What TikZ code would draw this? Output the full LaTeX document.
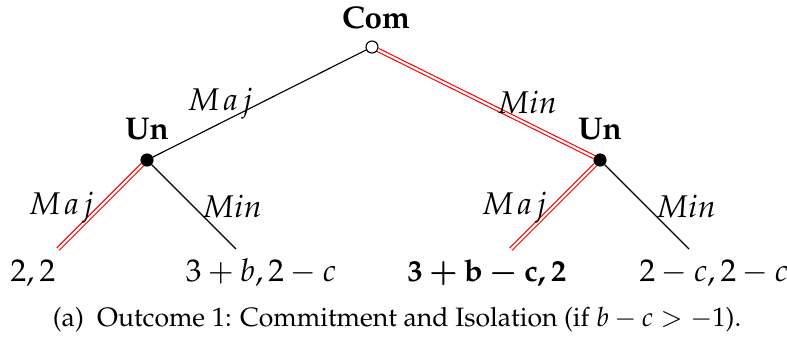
\documentclass[tikz,border=0pt]{standalone}
\usepackage[T1]{fontenc}
\usepackage{amsmath}
\usepackage{mathpazo}
\usetikzlibrary{positioning}
\definecolor{cred}{HTML}{FF0000}
\tikzset{
  every picture/.style={line width=0.4pt, font=\fontsize{11}{13}\selectfont},
  player/.style={font=\fontsize{11}{13}\selectfont\bfseries, inner sep=0pt},
  act/.style={inner sep=0pt, anchor=base},
  payoff/.style={inner sep=0pt, anchor=base},
  caption/.style={inner sep=0pt, anchor=base, font=\fontsize{9.3}{11}\selectfont},
  eqpath/.style={draw=cred, double=white, double distance=0.75pt, line width=0.4pt},
}

\begin{document}
\begin{tikzpicture}[x=0.0123cm, y=-0.0123cm,
  dec/.style={circle, fill=black, draw=black, inner sep=0pt, minimum size=4.2pt},
  start/.style={circle, fill=white, draw=black, line width=0.4pt, inner sep=0pt, minimum size=4.2pt}]
  \useasboundingbox (0,0) rectangle (787,341);
  % decision nodes
  \node[start] (root) at (372,47) {};
  \node[dec] (uL) at (147,160) {};
  \node[dec] (uR) at (600,160) {};
  \node[player, above=0.14cm of root, xshift=0.05cm] (pCom) {Com};
  \node[player, above=0.16cm of uL] (pUnL) {Un};
  \node[player, above=0.16cm of uR] (pUnR) {Un};
  % ends of the branches
  \coordinate (lA) at (58,249);
  \coordinate (lB) at (236,249);
  \coordinate (lC) at (511,249);
  \coordinate (lD) at (689,249);
  % branches, equilibrium path in red
  \draw (root) -- (uL);
  \draw[eqpath] (root) -- (uR);
  \draw[eqpath] (uL) -- (lA);
  \draw (uL) -- (lB);
  \draw[eqpath] (uR) -- (lC);
  \draw (uR) -- (lD);
  % actions
  \node[act] (aMaj) at (220,110.5) {$M\mkern2mu a\mkern2mu j$};
  \node[act] (aMin) at (527,113) {$Min$};
  \node[act] (aMajL) at (61,214) {$M\mkern2mu a\mkern2mu j$};
  \node[act] (aMinL) at (232,217) {$Min$};
  \node[act] (aMajR) at (514,214) {$M\mkern2mu a\mkern2mu j$};
  \node[act] (aMinR) at (686,217) {$Min$};
  % payoffs
  \node[payoff] (oA) at (33,281) {$2,2$};
  \node[payoff] (oB) at (261,281) {$3+b,2-c$};
  \node[payoff, font=\fontsize{10.6}{13}\selectfont\boldmath] (oC) at (487,281) {$\mathbf{3+b-c,2}$};
  \node[payoff] (oD) at (714,281) {$2-c,2-c$};
  \node[caption] (cap) at (397,326) {(a)\ \ Outcome 1: Commitment and Isolation (if $b-c>-1$).};
\end{tikzpicture}
\end{document}
